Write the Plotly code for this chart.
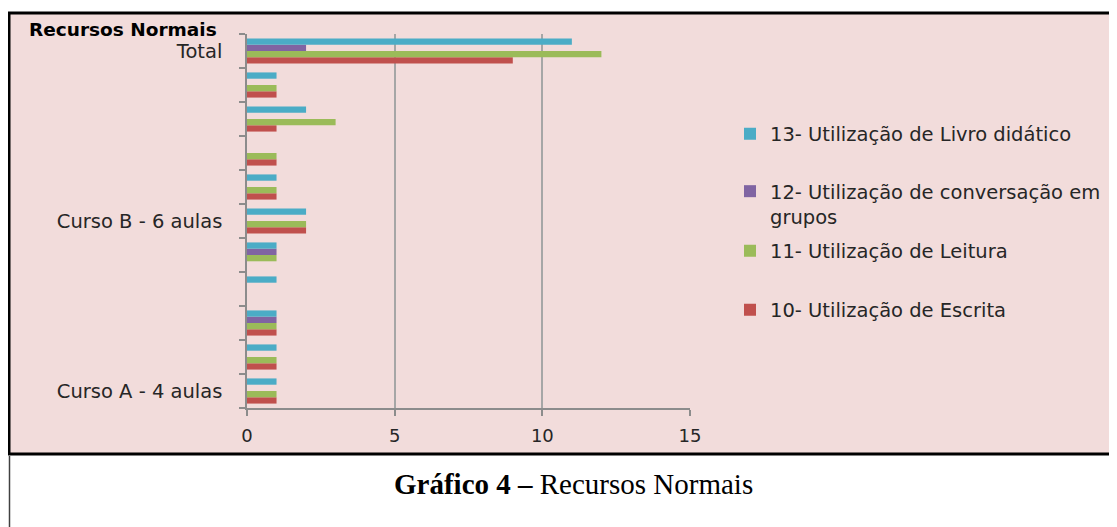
import plotly.graph_objects as go

# ---- data (bottom row first) ----
categories = ["Curso A - 4 aulas", "Linha 2", "Linha 3", "Linha 4", "Linha 5",
              "Curso B - 6 aulas", "Linha 7", "Linha 8", "Linha 9", "Linha 10", "Total"]
tick_labels = ["Curso A - 4 aulas", "", "", "", "",
               "Curso B - 6 aulas", "", "", "", "", "Total"]
escrita = [1, 1, 1, 0, 0, 2, 1, 1, 1, 1, 9]       # 10- Utilização de Escrita
leitura = [1, 1, 1, 0, 1, 2, 1, 1, 3, 1, 12]      # 11- Utilização de Leitura
conversa = [0, 0, 1, 0, 1, 0, 0, 0, 0, 0, 2]      # 12- conversação em grupos
livro = [1, 1, 1, 1, 1, 2, 1, 0, 2, 1, 11]        # 13- Livro didático
x_ticks = [0, 5, 10, 15]

series = [
    ("10- Utilização de Escrita", escrita, "#C0504D"),
    ("11- Utilização de Leitura", leitura, "#9BBB59"),
    ("12- Utilização de conversação em<br>grupos", conversa, "#8064A2"),
    ("13- Utilização de Livro didático", livro, "#4BACC6"),
]

# ---- geometry: page pixels, the page body has an 8px margin ----
OFF = 8
W, H = 1117, 527
L, R, T, B = 247 - OFF, 690 - OFF, 34 - OFF, 408 - OFF
pw, ph = R - L, B - T


def px(x):
    return (x - OFF - L) / pw


def py(y):
    return (B - (y - OFF)) / ph


FONT = "DejaVu Sans"
fig = go.Figure()

legend_names = ["legend4", "legend3", "legend2", "legend"]
legend_y = [310, 251, 204, 134]
for (name, vals, col), lg in zip(series, legend_names):
    fig.add_trace(go.Bar(
        y=categories, x=vals, name=name, orientation="h",
        marker=dict(color=col, line=dict(width=0)),
        legend=lg,
    ))

legend_common = dict(
    x=px(730), xanchor="left", yanchor="middle", valign="top",
    bgcolor="rgba(0,0,0,0)", borderwidth=0,
    font=dict(family=FONT, size=19.5, color="#262626"),
)
layout_legends = {}
for lg, yy in zip(legend_names, legend_y):
    layout_legends[lg] = dict(legend_common, y=py(yy))

fig.update_layout(
    width=W, height=H,
    margin=dict(l=L, r=W - R, t=T, b=H - B, pad=0),
    paper_bgcolor="white",
    plot_bgcolor="rgba(0,0,0,0)",
    barmode="group", bargap=0.26, bargroupgap=0,
    showlegend=True,
    font=dict(family=FONT, color="#262626"),
    xaxis=dict(
        range=[0, 15], tickvals=x_ticks, ticktext=[str(v) for v in x_ticks],
        showgrid=True, gridcolor="#A6A6A6", gridwidth=1.5,
        zeroline=False, showline=True, linecolor="#8C8C8C", linewidth=1.5,
        ticks="outside", ticklen=6, tickcolor="#8C8C8C", tickwidth=1.5,
        tickfont=dict(family=FONT, size=18, color="#262626"),
        ticklabelstandoff=5, fixedrange=True,
    ),
    yaxis=dict(
        type="category", categoryorder="array", categoryarray=categories,
        tickvals=categories, ticktext=tick_labels, tickson="boundaries",
        showgrid=False, zeroline=False,
        showline=True, linecolor="#8C8C8C", linewidth=1.5,
        ticks="outside", ticklen=6, tickcolor="#8C8C8C", tickwidth=1.5,
        tickfont=dict(family=FONT, size=19.5, color="#262626"),
        ticklabelstandoff=19, fixedrange=True,
    ),
    **layout_legends,
)

shapes = [
    # pink chart panel with black frame
    dict(type="rect", xref="paper", yref="paper",
         x0=px(9), x1=px(1140), y0=py(454), y1=py(13),
         fillcolor="#F2DCDB", line=dict(color="black", width=3), layer="below"),
    # left border of the caption area
    dict(type="line", xref="paper", yref="paper",
         x0=px(9.5), x1=px(9.5), y0=py(456), y1=py(540),
         line=dict(color="#404040", width=1.5), layer="below"),
]
fig.update_layout(shapes=shapes)

fig.add_annotation(
    xref="paper", yref="paper", x=px(27), y=py(30), xanchor="left", yanchor="middle",
    text="<b>Recursos Normais</b>", showarrow=False,
    font=dict(family=FONT, size=18.5, color="black"),
)
fig.add_annotation(
    xref="paper", yref="paper", x=px(573), y=py(484), xanchor="center", yanchor="middle",
    text="<b>Gráfico 4 –</b> Recursos Normais", showarrow=False,
    font=dict(family="Liberation Serif", size=29, color="black"),
)

fig.write_html("out.html")
